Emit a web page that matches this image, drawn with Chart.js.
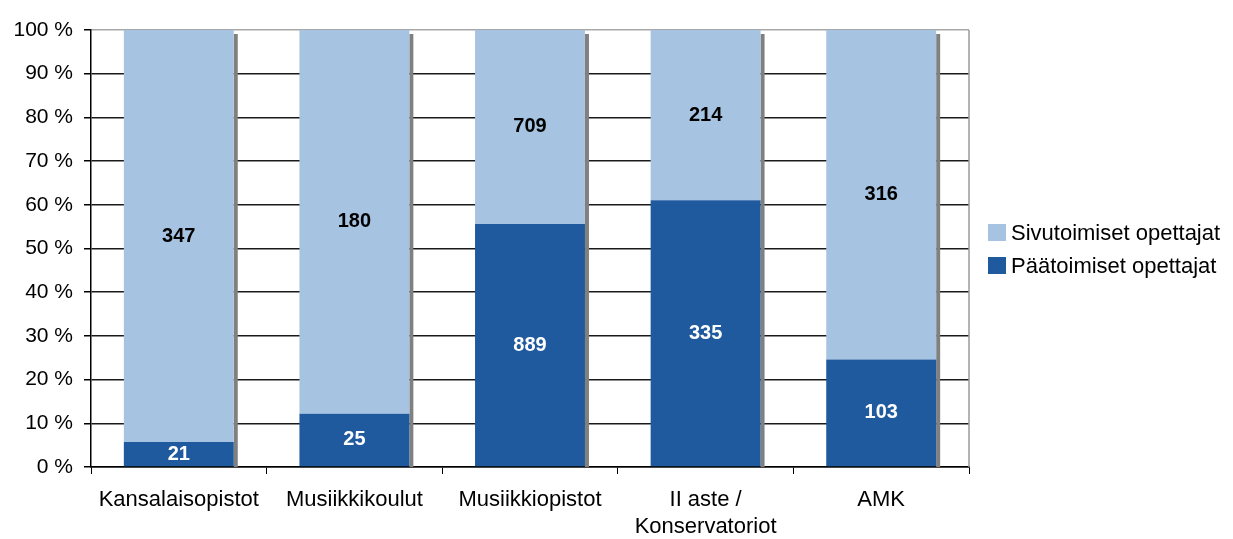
<!DOCTYPE html>
<html>
<head>
<meta charset="utf-8">
<script src="https://cdn.jsdelivr.net/npm/chart.js@4"></script>
<style>
  html, body { margin: 0; padding: 0; background: #fff; }
  canvas { display: block; }
</style>
</head>
<body>
<canvas id="graph" width="1233" height="539"></canvas>
<script>
// teacher counts per school type
const categories = ['Kansalaisopistot', 'Musiikkikoulut', 'Musiikkiopistot', ['II aste /', 'Konservatoriot'], 'AMK'];
const paatoimiset = [21, 25, 889, 335, 103];     // full-time (dark, bottom)
const sivutoimiset = [347, 180, 709, 214, 316];  // part-time (light, top)
const seriesNames = ['Päätoimiset opettajat', 'Sivutoimiset opettajat'];
const yTickValues = [0, 10, 20, 30, 40, 50, 60, 70, 80, 90, 100];

const DARK = '#1F599E';
const LIGHT = '#A6C4E2';
const FONT = '"Liberation Sans", Arial, sans-serif';

// 100 % stacked -> shares of each column
const totals = paatoimiset.map((v, i) => v + sivutoimiset[i]);
const share = arr => arr.map((v, i) => v / totals[i] * 100);

// grey drop shadow on the right of every bar + grey right border
const shadowPlugin = {
  id: 'shadow',
  beforeDatasetsDraw(chart) {
    const ctx = chart.ctx;
    const area = chart.chartArea;
    const base = chart.scales.y.getPixelForValue(0);
    const top = chart.getDatasetMeta(1).data;
    ctx.save();
    ctx.fillStyle = '#808080';
    top.forEach(el => {
      const right = el.x + el.width / 2;
      ctx.fillRect(right, el.y + 4, 4, base - el.y - 4);
    });
    ctx.strokeStyle = '#9a9a9a';
    ctx.lineWidth = 1.5;
    ctx.beginPath();
    ctx.moveTo(area.right, area.top);
    ctx.lineTo(area.right, area.bottom);
    ctx.stroke();
    ctx.restore();
  }
};

// counts written in the middle of each segment
const labelPlugin = {
  id: 'segLabels',
  afterDatasetsDraw(chart) {
    const ctx = chart.ctx;
    ctx.save();
    ctx.font = 'bold 20px ' + FONT;
    ctx.textAlign = 'center';
    ctx.textBaseline = 'middle';
    const raw = [paatoimiset, sivutoimiset];
    chart.data.datasets.forEach((ds, d) => {
      ctx.fillStyle = d === 0 ? '#ffffff' : '#000000';
      chart.getDatasetMeta(d).data.forEach((el, i) => {
        ctx.fillText(String(raw[d][i]), el.x, (el.y + el.base) / 2);
      });
    });
    ctx.restore();
  }
};

// legend on the right, top series first
const legendPlugin = {
  id: 'sideLegend',
  afterDraw(chart) {
    const ctx = chart.ctx;
    const area = chart.chartArea;
    const x = area.right + 19;
    const mid = (area.top + area.bottom) / 2;
    const items = [
      { text: seriesNames[1], color: LIGHT, y: mid - 16 },
      { text: seriesNames[0], color: DARK, y: mid + 17 }
    ];
    ctx.save();
    ctx.font = '22px ' + FONT;
    ctx.textBaseline = 'middle';
    ctx.textAlign = 'left';
    items.forEach(it => {
      ctx.fillStyle = it.color;
      ctx.fillRect(x, it.y - 8.5, 18, 17);
      ctx.fillStyle = '#000';
      ctx.fillText(it.text, x + 23, it.y + 1);
    });
    ctx.restore();
  }
};

new Chart(document.getElementById('graph'), {
  type: 'bar',
  data: {
    labels: categories,
    datasets: [
      { label: seriesNames[0], data: share(paatoimiset), backgroundColor: DARK },
      { label: seriesNames[1], data: share(sivutoimiset), backgroundColor: LIGHT }
    ]
  },
  options: {
    responsive: false,
    animation: false,
    devicePixelRatio: 1,
    layout: { padding: { top: 30, right: 264, left: 0, bottom: 0 } },
    datasets: { bar: { categoryPercentage: 1, barPercentage: 0.626 } },
    plugins: {
      legend: { display: false },
      tooltip: { enabled: false }
    },
    scales: {
      x: {
        stacked: true,
        afterFit(scale) { scale.height = 72; },
        border: { color: '#000', width: 1.5 },
        grid: { offset: true, drawOnChartArea: false, drawTicks: true, tickLength: 7, color: '#000' },
        ticks: { color: '#000', padding: 13, font: { family: FONT, size: 22 } }
      },
      y: {
        stacked: true,
        min: 0,
        max: 100,
        afterFit(scale) { scale.width = 91; },
        afterBuildTicks(scale) { scale.ticks = yTickValues.map(v => ({ value: v })); },
        border: { color: '#000', width: 1.5 },
        grid: {
          tickLength: 7,
          lineWidth: 1.5,
          color: c => (c.tick && c.tick.value === 100) ? '#a8a8a8' : '#1a1a1a',
          tickColor: '#000'
        },
        ticks: {
          color: '#000',
          padding: 11,
          font: { family: FONT, size: 21 },
          callback: v => v + ' %'
        }
      }
    }
  },
  plugins: [shadowPlugin, labelPlugin, legendPlugin]
});
</script>
</body>
</html>
